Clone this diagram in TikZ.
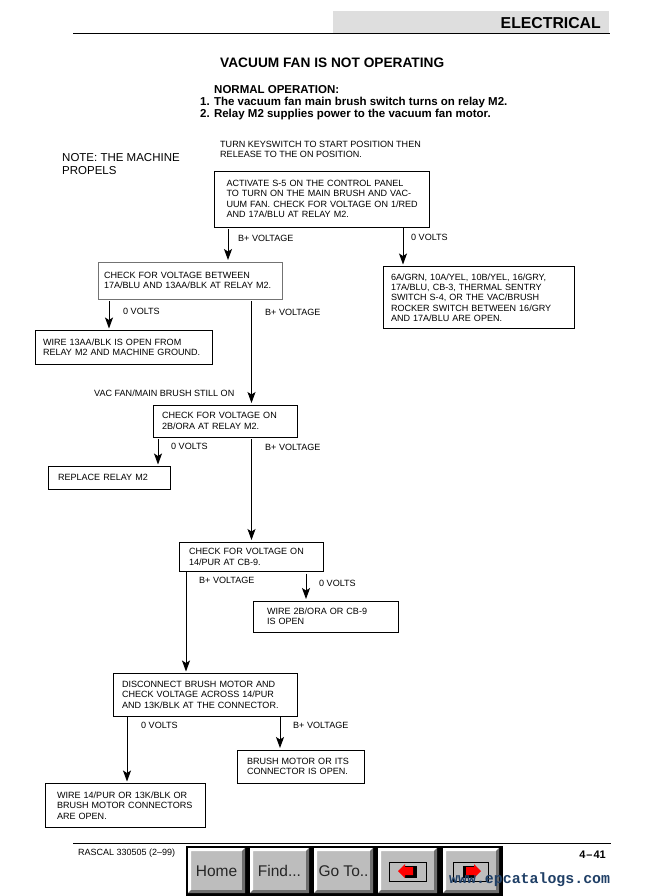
\documentclass[tikz,border=0pt]{standalone}
\usepackage{fontspec}
\setmainfont{Liberation Sans}
\newfontfamily\wmfont{Liberation Mono}
\usepackage{tikz}
\usetikzlibrary{arrows.meta,positioning}
\definecolor{headgray}{HTML}{DEDEDE}
\definecolor{btngray}{HTML}{BDBDBD}
\definecolor{btndark}{HTML}{6E6E6E}
\definecolor{wmblue}{HTML}{1F3F66}
\newcommand{\findlabel}{Find...}
\newcommand{\gotolabel}{Go To..}
\tikzset{
  flowbox/.style={draw, rectangle, line width=0.9pt, anchor=north west, align=left, outer sep=0pt, inner ysep=0pt,
    font=\fontsize{9.05}{10.3}\selectfont},
  flow/.style={line width=0.9pt, -{Stealth[length=11pt,width=8pt,inset=2.5pt]}, shorten >=2pt, shorten <=2pt},
  flowtouch/.style={flow, shorten <=0pt},
  answer/.style={anchor=west, inner sep=0pt, font=\fontsize{9.05}{10.3}\selectfont},
  plain/.style={anchor=west, inner sep=0pt, align=left},
  navtext/.style={inner sep=0pt, text=black!85, font=\fontsize{15.5}{17}\selectfont}
}
\begin{document}
\begin{tikzpicture}[x=1pt, y=-1pt]
  \useasboundingbox (0,0) rectangle (661,896);
  \fill[white] (0,0) rectangle (661,896);

  % page header
  \fill[headgray] (333,11) rectangle (609,33);
  \draw[line width=0.9pt] (73,33.5) -- (610,33.5);
  \node[plain, anchor=east, font=\bfseries\fontsize{15.8}{17}\selectfont] (chapter) at (601,23) {ELECTRICAL};
  \node[plain, font=\bfseries\fontsize{13.7}{15}\selectfont] (title) at (220,63) {VACUUM FAN IS NOT OPERATING};

  \node[plain, font=\bfseries\fontsize{11.5}{13}\selectfont] (normal) at (214,90) {NORMAL OPERATION:};
  \node[plain, font=\bfseries\fontsize{11.5}{13}\selectfont] (stepone) at (200,103) {1. The vacuum fan main brush switch turns on relay M2.};
  \node[plain, font=\bfseries\fontsize{11.5}{13}\selectfont] (steptwo) at (200,115) {2. Relay M2 supplies power to the vacuum fan motor.};

  \node[plain, font=\fontsize{11.5}{13}\selectfont] (note) at (62,164) {NOTE: THE MACHINE\\PROPELS};
  \node[plain, font=\fontsize{9.05}{10.3}\selectfont] (turn) at (220,149.5) {TURN KEYSWITCH TO START POSITION THEN\\RELEASE TO THE ON POSITION.};

  % flow chart boxes
  \node[flowbox, text width=191pt, inner xsep=12pt, minimum height=56pt] (A) at (214.5,171) {ACTIVATE S-5 ON THE CONTROL PANEL\\TO TURN ON THE MAIN BRUSH AND VAC-\\\mbox{UUM FAN. CHECK FOR VOLTAGE ON 1/RED}\\AND 17A/BLU AT RELAY M2.};
  \node[flowbox, draw=black!55, text width=172pt, inner xsep=6pt, minimum height=37pt] (B) at (98,262) {CHECK FOR VOLTAGE BETWEEN\\17A/BLU AND 13AA/BLK AT RELAY M2.};
  \node[flowbox, text width=161pt, inner xsep=8pt, minimum height=33.5pt] (C) at (35,330.5) {WIRE 13AA/BLK IS OPEN FROM\\RELAY M2 AND MACHINE GROUND.};
  \node[flowbox, text width=175pt, inner xsep=8pt, minimum height=62pt] (D) at (383,266.5) {6A/GRN, 10A/YEL, 10B/YEL, 16/GRY,\\17A/BLU, CB-3, THERMAL SENTRY\\SWITCH S-4, OR THE VAC/BRUSH\\ROCKER SWITCH BETWEEN 16/GRY\\AND 17A/BLU ARE OPEN.};
  \node[flowbox, text width=126pt, inner xsep=9pt, minimum height=32pt] (E) at (153,405) {CHECK FOR VOLTAGE ON\\2B/ORA AT RELAY M2.};
  \node[flowbox, text width=102pt, inner xsep=10pt, minimum height=22.5pt] (F) at (48,466.5) {REPLACE RELAY M2};
  \node[flowbox, text width=124pt, inner xsep=10pt, minimum height=29.5pt] (G) at (179,542) {CHECK FOR VOLTAGE ON\\14/PUR AT CB-9.};
  \node[flowbox, text width=117pt, inner xsep=14pt, minimum height=31pt] (H) at (253,601) {WIRE 2B/ORA OR CB-9\\IS OPEN};
  \node[flowbox, text width=166pt, inner xsep=9pt, minimum height=42.5pt] (I) at (113,673.5) {DISCONNECT BRUSH MOTOR AND\\CHECK VOLTAGE ACROSS 14/PUR\\AND 13K/BLK AT THE CONNECTOR.};
  \node[flowbox, text width=107pt, inner xsep=10pt, minimum height=33pt] (J) at (237,750) {BRUSH MOTOR OR ITS\\CONNECTOR IS OPEN.};
  \node[flowbox, text width=136pt, inner xsep=12pt, minimum height=44pt] (K) at (45,783.5) {WIRE 14/PUR OR 13K/BLK OR\\BRUSH MOTOR CONNECTORS\\ARE OPEN.};

  % answers
  \node[answer] (aB) at (238,238) {B+ VOLTAGE};
  \node[answer] (aD) at (411,237.5) {0 VOLTS};
  \node[answer] (aC) at (123,311) {0 VOLTS};
  \node[answer] (aE) at (265,312.5) {B+ VOLTAGE};
  \node[answer] (still) at (94,393) {VAC FAN/MAIN BRUSH STILL ON};
  \node[answer] (aF) at (171,446.5) {0 VOLTS};
  \node[answer] (aG) at (265,447.5) {B+ VOLTAGE};
  \node[answer] (aI) at (199,580.5) {B+ VOLTAGE};
  \node[answer] (aH) at (319,583.5) {0 VOLTS};
  \node[answer] (aK) at (141,725.5) {0 VOLTS};
  \node[answer] (aJ) at (293,725.5) {B+ VOLTAGE};

  \path[flow]
    (A.south -| 228,0) edge (B.north -| 228,0)
    (B.south -| 109,0) edge (C.north -| 109,0)
    (B.south -| 251.5,0) edge (E.north -| 251.5,0)
    (E.south -| 158,0) edge (F.north -| 158,0)
    (E.south -| 251.5,0) edge (G.north -| 251.5,0)
    (G.south -| 306,0) edge (H.north -| 306,0);
  \path[flowtouch]
    (A.south -| 403,0) edge (D.north -| 403,0)
    (G.south -| 186,0) edge (I.north -| 186,0)
    (I.south -| 127,0) edge (K.north -| 127,0)
    (I.south -| 280,0) edge (J.north -| 280,0);

  % page footer
  \draw[line width=0.9pt] (73,843.5) -- (611,843.5);
  \node[plain, font=\fontsize{9}{10}\selectfont] (footer) at (78,853) {RASCAL 330505 (2--99)};
  \node[plain, anchor=east, font=\bfseries\fontsize{11}{12}\selectfont] (page) at (606,855) {4\kern1pt--\kern1pt41};

  % navigation bar
  \fill[black] (186,846) rectangle (503,896);
  \foreach \bl/\br/\bname/\btext in {188/245/home/Home, 250/309/find/\findlabel, 314/373/goto/\gotolabel, 378/437/back/{}, 443/499/next/{}} {
    \fill[btngray] (\bl,848) rectangle (\br,893);
    \fill[white] (\bl,848) -- (\br,848) -- (\br-3,851) -- (\bl+3,851) -- (\bl+3,890) -- (\bl,893) -- cycle;
    \fill[btndark] (\br,848) -- (\br,893) -- (\bl,893) -- (\bl+3,890) -- (\br-3,890) -- (\br-3,851) -- cycle;
    \node[navtext] (\bname) at ({(\bl+\br)/2},871) {\btext};
  }
  \draw[line width=0.7pt] (389,862) rectangle (426,881);
  \fill[black] (405,866) rectangle (417,878);
  \fill[red] (398,871) -- (405,864) -- (405,867) -- (413,867) -- (413,875) -- (405,875) -- (405,878) -- cycle;
  \draw[line width=0.7pt] (453,862) rectangle (488,881);
  \fill[black] (463,866) rectangle (475,878);
  \fill[red] (481,871) -- (474,864) -- (474,867) -- (466,867) -- (466,875) -- (474,875) -- (474,878) -- cycle;

  \node[plain, text=wmblue, font=\wmfont\bfseries\fontsize{14.9}{17}\selectfont] (mark) at (449,880) {www.epcatalogs.com};
\end{tikzpicture}
\end{document}
